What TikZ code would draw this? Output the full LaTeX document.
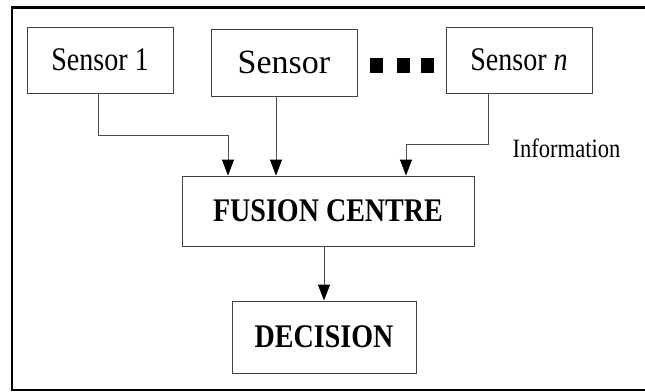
\documentclass[tikz,border=0pt]{standalone}
\usepackage{fontspec}
\setmainfont{Liberation Serif}[FakeStretch=0.85]
\newfontfamily\plainserif{Liberation Serif}
\usetikzlibrary{arrows.meta}
\begin{document}
\begin{tikzpicture}[x=1pt, y=-1pt,
    box/.style={draw=black!75, line width=0.9pt, inner sep=0pt, minimum height=66pt},
    flow/.style={draw=black!70, line width=0.9pt, -{Triangle[length=16pt,width=12pt,color=black]}}]
\tikzset{every node/.style={font=\fontsize{33}{36}\selectfont}}
%\tikzset{every node/.style={font=\bfseries\Large}}
\useasboundingbox (0,0) rectangle (645,391);
% outer frame, open on the right
\draw[line width=2.2pt] (645,7.5) -- (12,7.5) -- (12,390) -- (645,390);
\node[box, minimum width=146pt] (sensorA) at (100,60) {Sensor 1};
\node[box, minimum width=146pt, minimum height=67pt,
      font=\plainserif\fontsize{34}{36}\selectfont] (sensorB) at (284,62.5) {Sensor};
\node[box, minimum width=146pt] (sensorC) at (519,60) {Sensor \textit{n}};
\foreach \i/\x in {1/376.5, 2/403, 3/427.5}
    \node[fill=black, inner sep=0pt, minimum width=13pt, minimum height=15pt] (dot\i) at (\x,65.5) {};
\node[box, minimum width=292pt, minimum height=70pt, font=\fontsize{33}{36}\selectfont\bfseries] (fusion) at (328,211) {FUSION CENTRE};
\node[box, minimum width=184pt, minimum height=72pt, font=\fontsize{33}{36}\selectfont\bfseries] (decision) at (324,337) {DECISION};
\node[font=\fontsize{26.5}{30}\selectfont] (info) at (566.5,148) {Information};
% connectors
\coordinate (kneeA) at (98,135);
\coordinate (kneeC) at (488,144);
\coordinate (inA) at (fusion.north -| 228,0);
\coordinate (inB) at (fusion.north -| 276,0);
\coordinate (inC) at (fusion.north -| 406,0);
\draw[flow] (sensorA.south -| kneeA) -- (kneeA) -| (inA);
\draw[flow] (sensorB.south -| inB) -- (inB);
\draw[flow] (sensorC.south -| kneeC) -- (kneeC) -| (inC);
\draw[flow] (fusion.south -| decision.north) -- (decision.north);
\end{tikzpicture}
\end{document}
